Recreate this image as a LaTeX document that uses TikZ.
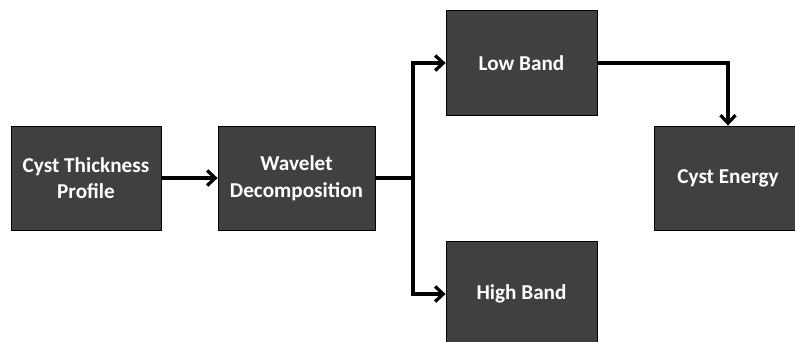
\documentclass[tikz,border=0pt]{standalone}
\usepackage{fontspec}
\setmainfont{Carlito}
\usetikzlibrary{arrows.meta}

\definecolor{boxgray}{HTML}{404040}

\tikzset{
    block/.style={draw=black, line width=0.8pt, fill=boxgray, text=white,
        font=\bfseries\fontsize{21.2}{26.5}\selectfont, align=center,
        inner sep=0pt, minimum height=104pt},
    link/.style={line width=3.3pt, line join=miter},
    arr/.style={link, -{Straight Barb[length=8pt,width=15pt,line width=3.3pt]}}
}

\begin{document}
\begin{tikzpicture}[x=1pt, y=-1pt]

    \useasboundingbox (0, 0) rectangle (795, 341);
    \clip (0, 0) rectangle (795, 341);

    % Make the boxes
    \node[block, minimum width=150pt] (profile) at (86, 178) {Cyst Thickness\\Profile};
    \node[block, minimum width=157pt] (wavelet) at (296.5, 178) {Wavelet\\Decomposition};
    \node[block, minimum width=151pt, minimum height=105pt] (low) at (521.5, 63) {Low Band};
    \node[block, minimum width=151pt, minimum height=105pt] (high) at (521.5, 294) {High Band};
    \node[block, minimum width=148pt] (energy) at (728, 178) {Cyst Energy};

    \coordinate (split) at (413, 178);

    % Make the arrows
    \draw[arr] (profile) -- (wavelet);
    \draw[link] (wavelet) -- (split);
    \draw[arr] (split) |- (low);
    \draw[arr] (split) |- (high);
    \draw[arr] (low) -| (energy);

\end{tikzpicture}
\end{document}
